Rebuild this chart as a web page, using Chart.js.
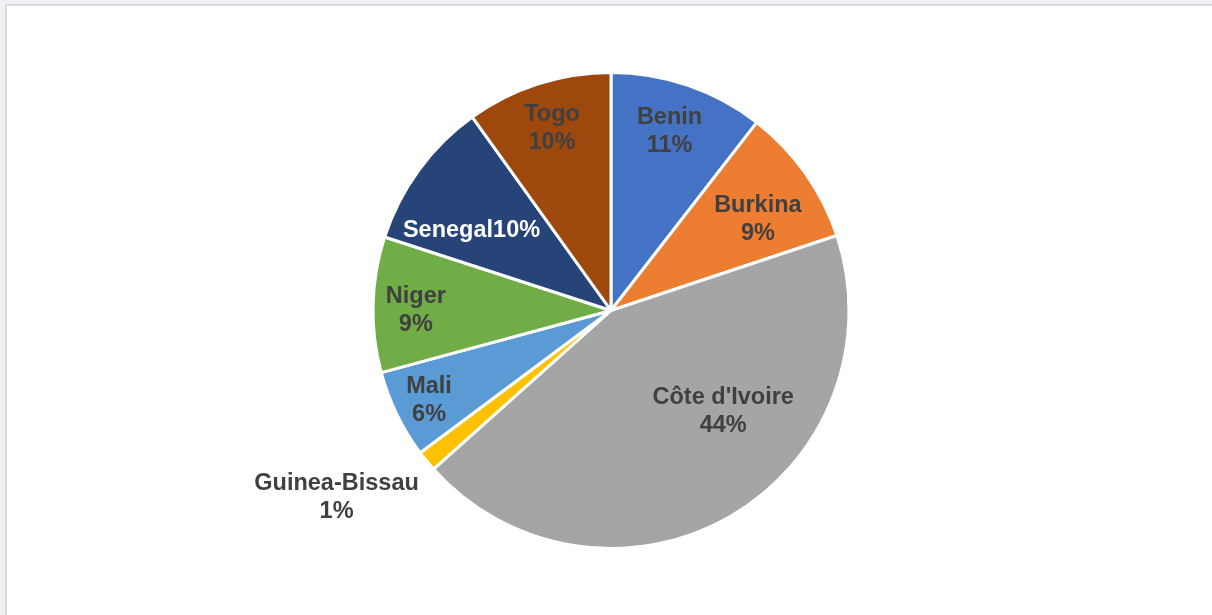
<!DOCTYPE html>
<html>
<head>
<meta charset="utf-8">
<script src="https://cdn.jsdelivr.net/npm/chart.js@4"></script>
<style>
    html, body { margin: 0; padding: 0; background: #eef1f5; overflow: hidden; }
    #panel {
        position: absolute; left: 5px; top: 4px; width: 1220px; height: 620px;
        background: #fff; border-left: 2px solid #d9d9d9; border-top: 2px solid #d9d9d9;
    }
    #wrap { position: absolute; left: 0; top: 0; width: 1212px; height: 615px; }
</style>
</head>
<body>
<div id="panel"></div>
<div id="wrap"><canvas id="pie"></canvas></div>
<script>
    const countries = ['Benin', 'Burkina', "Côte d'Ivoire", 'Guinea-Bissau', 'Mali', 'Niger', 'Senegal', 'Togo'];
    const shares = [10.5, 9.4, 43.5, 1.4, 6.0, 9.2, 10.1, 9.9];
    const sliceColors = ['#4472C4', '#ED7D31', '#A5A5A5', '#FFC000', '#5B9BD5', '#70AD47', '#264478', '#9E480E'];

    // label placement: fraction of radius, angle shift (deg) from slice middle
    const labelRadius = [0.80, 0.73, 0.63, 1.39, 0.85, 0.82, 0.68, 0.81];
    const labelShift = [-1, 3, -18.4, 5.3, 0, -1, -5.7, 0];

    const pieLabels = {
        id: 'pieLabels',
        afterDatasetsDraw(chart) {
            const ctx = chart.ctx;
            const arcs = chart.getDatasetMeta(0).data;
            ctx.save();
            ctx.font = 'bold 23.5px "Liberation Sans", Arial, sans-serif';
            ctx.textAlign = 'center';
            ctx.textBaseline = 'middle';
            arcs.forEach((arc, i) => {
                const p = arc.getProps(['x', 'y', 'startAngle', 'endAngle', 'outerRadius'], true);
                const mid = (p.startAngle + p.endAngle) / 2 + labelShift[i] * Math.PI / 180;
                const r = p.outerRadius * labelRadius[i];
                const cx = p.x + Math.cos(mid) * r;
                const cy = p.y + Math.sin(mid) * r + 2;
                const pct = Math.round(shares[i]) + '%';
                if (countries[i] === 'Senegal') {
                    ctx.fillStyle = '#ffffff';
                    ctx.fillText(countries[i] + pct, cx, cy);
                } else {
                    ctx.fillStyle = '#404040';
                    ctx.fillText(countries[i], cx, cy - 14);
                    ctx.fillText(pct, cx, cy + 14);
                }
            });
            ctx.restore();
        }
    };

    new Chart(document.getElementById('pie'), {
        type: 'pie',
        data: {
            labels: countries,
            datasets: [{
                data: shares,
                backgroundColor: sliceColors,
                borderColor: '#ffffff',
                borderWidth: 3,
            }],
        },
        options: {
            responsive: true,
            maintainAspectRatio: false,
            animation: false,
            layout: {
                padding: { top: 71, bottom: 65, left: 10, right: 0 },
            },
            plugins: {
                legend: { display: false },
                tooltip: { enabled: false },
            },
        },
        plugins: [pieLabels],
    });
</script>
</body>
</html>
